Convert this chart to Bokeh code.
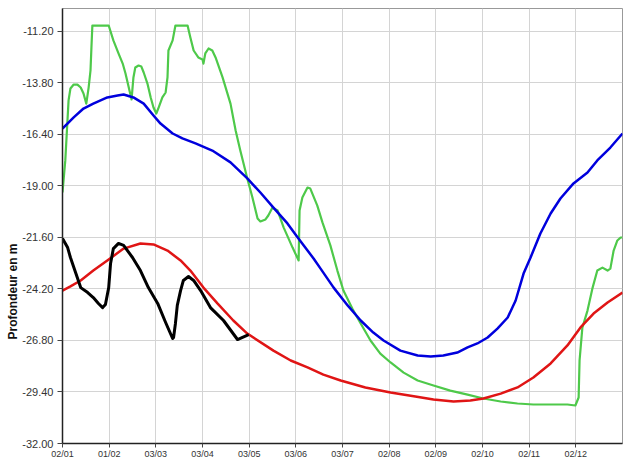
from bokeh.plotting import figure
from bokeh.models import FixedTicker, Range1d, Title
from bokeh.embed import file_html
from bokeh.resources import INLINE

# x positions are in month-tick units (0 = 02/01, 1 = 01/02, ...)
tick_labels = ["02/01", "01/02", "03/03", "03/04", "03/05", "03/06",
               "03/07", "02/08", "02/09", "02/10", "02/11", "02/12"]
y_ticks = [-11.2, -13.8, -16.4, -19.0, -21.6, -24.2, -26.8, -29.4, -32.0]
y_label = "Profondeur en m"

green_x = [0.00, 0.06, 0.13, 0.17, 0.24, 0.32, 0.39, 0.45, 0.51, 0.56, 0.60, 0.62, 0.64,
           0.99, 1.09, 1.20, 1.29, 1.35, 1.41, 1.48, 1.52, 1.56, 1.63, 1.69, 1.74, 1.82,
           1.89, 1.95, 2.01, 2.06, 2.14, 2.21, 2.25, 2.27, 2.36, 2.42, 2.68, 2.74, 2.81,
           2.91, 3.00, 3.02, 3.06, 3.13, 3.21, 3.28, 3.43, 3.60, 3.71, 3.81, 3.96, 4.07,
           4.18, 4.24, 4.35, 4.41, 4.50, 4.61, 4.74, 4.93, 5.06, 5.08, 5.14, 5.25, 5.31,
           5.46, 5.57, 5.74, 5.89, 6.02, 6.21, 6.39, 6.60, 6.81, 7.03, 7.31, 7.61, 7.95,
           8.31, 8.68, 9.02, 9.39, 9.75, 10.09, 10.46, 10.82, 10.99, 11.06, 11.08, 11.14,
           11.25, 11.36, 11.46, 11.57, 11.68, 11.74, 11.81, 11.89, 11.96, 12.00]
green_y = [-19.33, -17.71, -14.68, -14.08, -13.88, -13.88, -14.03, -14.33, -14.84, -14.03,
           -13.17, -12.01, -10.90, -10.90, -11.65, -12.31, -12.82, -13.32, -13.93, -14.63,
           -13.52, -13.02, -12.92, -12.97, -13.27, -13.83, -14.53, -15.04, -15.34, -15.04,
           -14.53, -14.28, -13.52, -12.16, -11.65, -10.90, -10.90, -11.50, -12.16, -12.51,
           -12.61, -12.82, -12.31, -12.06, -12.16, -12.51, -13.52, -14.84, -16.20, -17.21,
           -18.62, -19.58, -20.64, -20.79, -20.69, -20.49, -20.09, -20.24, -21.10, -22.11,
           -22.76, -20.24, -19.58, -19.08, -19.13, -19.99, -20.84, -22.00, -23.27, -24.28,
           -25.19, -25.94, -26.80, -27.46, -27.91, -28.42, -28.82, -29.07, -29.33, -29.53,
           -29.73, -29.88, -29.98, -30.03, -30.03, -30.03, -30.08, -29.68, -27.81, -26.15,
           -25.29, -24.13, -23.27, -23.12, -23.27, -23.17, -22.26, -21.75, -21.60, -21.60]

blue_x = [0.00, 0.24, 0.45, 0.66, 0.96, 1.18, 1.31, 1.52, 1.74, 1.95, 2.10, 2.36, 2.57,
          2.85, 3.21, 3.60, 3.96, 4.24, 4.52, 4.82, 5.04, 5.38, 5.53, 5.81, 6.11, 6.39,
          6.66, 6.88, 7.24, 7.61, 7.89, 8.16, 8.46, 8.68, 8.89, 9.11, 9.32, 9.54, 9.71,
          9.88, 10.03, 10.24, 10.46, 10.67, 10.95, 11.25, 11.46, 11.74, 12.00]
blue_y = [-16.10, -15.54, -15.09, -14.84, -14.53, -14.43, -14.38, -14.53, -14.84, -15.44,
          -15.85, -16.35, -16.60, -16.85, -17.21, -17.81, -18.62, -19.33, -20.09, -20.89,
          -21.60, -22.66, -23.17, -24.13, -25.03, -25.79, -26.40, -26.80, -27.31, -27.56,
          -27.61, -27.56, -27.41, -27.15, -26.95, -26.65, -26.20, -25.64, -24.78, -23.42,
          -22.61, -21.40, -20.39, -19.63, -18.87, -18.32, -17.71, -17.06, -16.35]

red_x = [0.00, 0.17, 0.39, 0.66, 0.96, 1.31, 1.67, 1.95, 2.25, 2.53, 2.74, 3.02, 3.32,
         3.66, 3.96, 4.52, 4.89, 5.25, 5.59, 5.96, 6.49, 7.03, 7.56, 7.95, 8.38, 8.74,
         9.02, 9.39, 9.75, 10.09, 10.46, 10.82, 11.10, 11.38, 11.68, 12.00]
red_y = [-24.28, -24.07, -23.77, -23.27, -22.76, -22.16, -21.90, -21.95, -22.26, -22.76,
         -23.27, -24.13, -24.93, -25.79, -26.45, -27.31, -27.81, -28.16, -28.52, -28.82,
         -29.17, -29.43, -29.63, -29.78, -29.88, -29.83, -29.73, -29.48, -29.17, -28.67,
         -27.96, -27.05, -26.14, -25.44, -24.88, -24.38]

black_x = [0.00, 0.11, 0.17, 0.28, 0.39, 0.54, 0.66, 0.77, 0.86, 0.92, 0.99, 1.03, 1.09,
           1.20, 1.31, 1.50, 1.67, 1.84, 2.04, 2.21, 2.36, 2.38, 2.42, 2.46, 2.53, 2.59,
           2.70, 2.81, 2.96, 3.17, 3.45, 3.75, 3.99]
black_y = [-21.65, -22.11, -22.61, -23.37, -24.13, -24.38, -24.63, -24.93, -25.14, -24.98,
           -24.13, -22.91, -22.16, -21.90, -22.00, -22.61, -23.27, -24.13, -24.93, -25.89,
           -26.70, -26.65, -25.94, -25.03, -24.28, -23.77, -23.57, -23.77, -24.28, -25.14,
           -25.79, -26.75, -26.50]

FONT = "'Liberation Sans', Arial, sans-serif"
NARROW = "'Liberation Sans Narrow', 'Arial Narrow', 'Liberation Sans', sans-serif"

p = figure(width=623, height=461, output_backend="svg", toolbar_location=None,
           x_range=Range1d(0, 12), y_range=Range1d(-32.0, -10.04),
           min_border_left=62, min_border_right=1, min_border_top=8, min_border_bottom=18)
p.background_fill_color = "white"
p.border_fill_color = "white"
p.outline_line_color = "#999999"
p.outline_line_width = 1

p.xgrid.grid_line_color = "#d4d4d4"
p.ygrid.grid_line_color = "#d4d4d4"
p.xgrid.grid_line_width = 1
p.ygrid.grid_line_width = 1

p.xaxis.ticker = FixedTicker(ticks=list(range(len(tick_labels))))
p.xaxis.major_label_overrides = {i: t for i, t in enumerate(tick_labels)}
p.yaxis.ticker = FixedTicker(ticks=y_ticks)
p.yaxis.major_label_overrides = {v: f"{v:.2f}" for v in y_ticks}

for ax in (p.xaxis, p.yaxis):
    ax.axis_line_color = "#222222"
    ax.axis_line_width = 1.5
    ax.major_tick_line_color = "#444444"
    ax.major_tick_in = 0
    ax.minor_tick_line_color = None
    ax.major_label_text_color = "#333333"

p.xaxis.major_tick_out = 4
p.xaxis.major_label_standoff = 1
p.xaxis.major_label_text_font = NARROW
p.xaxis.major_label_text_font_size = "9px"
p.yaxis.major_tick_out = 5
p.yaxis.major_label_standoff = 4
p.yaxis.major_label_text_font = FONT
p.yaxis.major_label_text_font_size = "11px"

p.line(green_x, green_y, line_color="#4ec94a", line_width=2.2, line_join="round")
p.line(blue_x, blue_y, line_color="#0000dd", line_width=2.5, line_join="round")
p.line(red_x, red_y, line_color="#e01515", line_width=2.5, line_join="round")
p.line(black_x, black_y, line_color="black", line_width=3, line_join="round")

t = Title(text=y_label, align="left", offset=104, standoff=0,
          text_font=FONT, text_font_size="12px", text_font_style="bold",
          text_color="#111111")
p.add_layout(t, "left")

open("out.html", "w").write(file_html(p, INLINE))
